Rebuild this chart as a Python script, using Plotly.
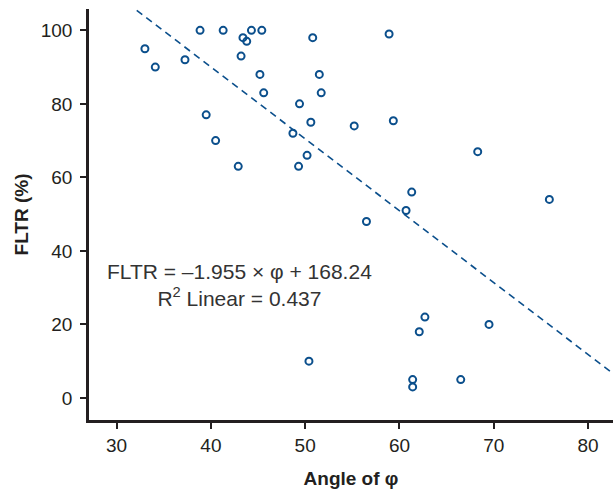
import numpy as np
import plotly.graph_objects as go

# ---------------------------------------------------------------------------
# Data
# ---------------------------------------------------------------------------
angle_phi = [
    33.0, 34.1, 37.25, 38.85, 41.3, 39.5, 40.5, 42.9, 43.4, 43.8,
    43.2, 44.3, 45.4, 45.2, 45.6, 50.8, 58.9, 51.5, 51.7, 49.4,
    50.6, 48.7, 55.2, 59.35, 50.2, 49.3, 61.3, 68.3, 60.7, 56.5,
    75.9, 62.7, 62.1, 69.5, 50.4, 61.4, 61.4, 66.5,
]
fltr = [
    95, 90, 92, 100, 100, 77, 70, 63, 98, 97,
    93, 100, 100, 88, 83, 98, 99, 88, 83, 80,
    75, 72, 74, 75.4, 66, 63, 56, 67, 51, 48,
    54, 22, 18, 20, 10, 5, 3, 5,
]

FIT_SLOPE = -1.955
FIT_INTERCEPT = 168.24
R2 = 0.437

X_RANGE = [27.07, 82.65]
Y_RANGE = [-6.0, 105.8]

BLUE = "#0B4F8C"
INK = "#231F20"
FONT = "Liberation Sans, Arial, Helvetica, sans-serif"

fig = go.Figure()

# regression line across the whole x range (clipped by the axes)
x_line = np.array(X_RANGE)
fig.add_trace(go.Scatter(
    x=x_line, y=FIT_SLOPE * x_line + FIT_INTERCEPT,
    mode="lines",
    line=dict(color=BLUE, width=1.6, dash="7px,5px"),
    showlegend=False, hoverinfo="skip",
))

fig.add_trace(go.Scatter(
    x=angle_phi, y=fltr,
    mode="markers",
    marker=dict(symbol="circle-open", size=7, color=BLUE, line=dict(width=2, color=BLUE)),
    showlegend=False,
))

fig.add_annotation(
    x=43.0, y=30.7, xref="x", yref="y",
    text=f"FLTR = –{abs(FIT_SLOPE):.3f} × φ + {FIT_INTERCEPT:.2f}<br>R<sup>2</sup> Linear = {R2:.3f}",
    showarrow=False, align="center",
    font=dict(family=FONT, size=21, color="#333333"),
)

fig.update_layout(
    width=613, height=491,
    paper_bgcolor="#FFFFFF", plot_bgcolor="#FFFFFF",
    font=dict(family=FONT, size=19, color=INK),
    margin=dict(l=89, r=0, t=9, b=71),
)

fig.update_xaxes(
    range=X_RANGE, tickvals=[30, 40, 50, 60, 70, 80],
    showgrid=False, zeroline=False,
    showline=True, linecolor=INK, linewidth=2.5,
    ticks="outside", ticklen=6, tickwidth=2, tickcolor=INK,
    title=dict(text="<b>Angle of φ</b>", font=dict(size=19), standoff=18),
)
fig.update_yaxes(
    range=Y_RANGE, tickvals=[0, 20, 40, 60, 80, 100],
    showgrid=False, zeroline=False,
    showline=True, linecolor=INK, linewidth=2.5,
    ticks="outside", ticklen=6, tickwidth=2, tickcolor=INK,
    ticklabelstandoff=4,
    title=dict(text="<b>FLTR (%)</b>", font=dict(size=19), standoff=8),
)

fig.write_html(
    "out.html",
    config={"displayModeBar": False},
    post_script="document.body.style.margin='0';document.body.style.padding='0';",
)
